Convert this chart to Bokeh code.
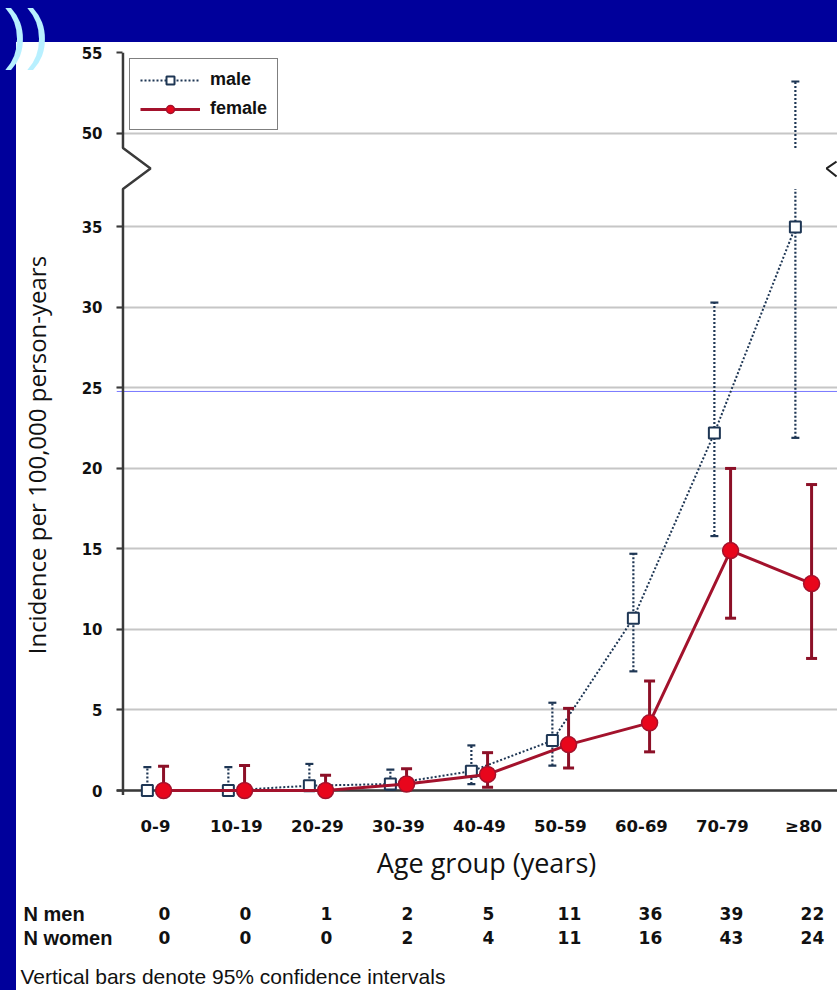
import math
import numpy as np
from bokeh.plotting import figure
from bokeh.models import (Range1d, FixedTicker, ColumnDataSource, Span, Legend,
                          LegendItem, Div)
from bokeh.layouts import column, row
from bokeh.core.properties import value
from bokeh.embed import file_html
from bokeh.resources import INLINE

# ---- data: incidence per 100,000 person-years with 95% CI ----
age_groups = ["0-9", "10-19", "20-29", "30-39", "40-49", "50-59", "60-69", "70-79", "≥80"]

male_rate = [0.0, 0.0, 0.3, 0.4, 1.2, 3.1, 10.7, 22.2, 35.0]
male_ci_low = [0.0, 0.0, 0.0, 0.05, 0.4, 1.55, 7.4, 15.8, 21.9]
male_ci_high = [1.45, 1.45, 1.65, 1.3, 2.8, 5.45, 14.7, 30.3, 53.2]

female_rate = [0.0, 0.0, 0.0, 0.4, 1.0, 2.85, 4.2, 14.9, 12.85]
female_ci_low = [0.0, 0.0, 0.0, 0.05, 0.2, 1.4, 2.4, 10.7, 8.2]
female_ci_high = [1.5, 1.55, 0.95, 1.35, 2.35, 5.1, 6.8, 20.0, 19.0]

n_men = [0, 0, 1, 2, 5, 11, 36, 39, 22]
n_women = [0, 0, 0, 2, 4, 11, 16, 43, 24]

y_tick_values = [0, 5, 10, 15, 20, 25, 30, 35, 50, 55]

# ---- styling ----
NAVY = "#00009b"
MALE = "#1e3654"
FEMALE_LINE = "#a3122c"
FEMALE_ERR = "#8c1027"
FEMALE_FILL = "#e8061c"
AXIS = "#3a3a3a"
GRID = "#c6c6c6"
INK = "#111111"

# ---- broken y axis: 35 → 50 is compressed into a short band ----
LOWER_TOP = 35.0
UPPER_BASE = 50.0
UPPER_BASE_POS = 40.83          # axis position of the value 50
BAND_LO, BAND_HI = 37.36, 39.90  # blank band where the axis is broken


def to_axis(v):
    if v <= LOWER_TOP:
        return float(v)
    if v >= UPPER_BASE:
        return UPPER_BASE_POS + (v - UPPER_BASE)
    return LOWER_TOP + (v - LOWER_TOP) * (UPPER_BASE_POS - LOWER_TOP) / (UPPER_BASE - LOWER_TOP)


def split_at_break(lo, hi):
    """Vertical pieces of an interval, leaving the break band empty."""
    a, b = to_axis(lo), to_axis(hi)
    if a < BAND_LO and b > BAND_HI:
        return [(a, BAND_LO), (BAND_HI, b)]
    return [(a, b)]


idx = np.arange(len(age_groups), dtype=float)
DODGE = 0.1
male_x = idx - DODGE
female_x = idx + DODGE

X_START, X_END = -0.481, 8.42
Y_START, Y_END = -0.683, to_axis(55)

FRAME_W, FRAME_H = 721, 749
LEFT_BORDER = 60
PX_PER_X = FRAME_W / (X_END - X_START)

MAIN_W, MAIN_H = 781, 800
TITLE_W = 40
TABLE_W, TABLE_H = 821, 148

p = figure(width=MAIN_W, height=MAIN_H,
           x_range=Range1d(X_START, X_END), y_range=Range1d(Y_START, Y_END),
           output_backend="svg", toolbar_location=None,
           min_border_left=LEFT_BORDER, min_border_right=0,
           min_border_top=10, min_border_bottom=MAIN_H - 10 - FRAME_H)
p.outline_line_color = None
p.background_fill_color = "white"
p.border_fill_color = "white"

# y axis ticks / grid on the compressed scale
tick_pos = [to_axis(v) for v in y_tick_values]
p.yaxis.ticker = FixedTicker(ticks=tick_pos)
p.yaxis.major_label_overrides = {pos: str(v) for pos, v in zip(tick_pos, y_tick_values)}
p.yaxis.axis_line_color = None
p.yaxis.minor_tick_line_color = None
p.yaxis.major_tick_in = 6
p.yaxis.major_tick_out = 0
p.yaxis.major_tick_line_color = AXIS
p.yaxis.major_tick_line_width = 2
p.yaxis.major_label_standoff = 14
p.yaxis.major_label_text_font = "DejaVu Sans"
p.yaxis.major_label_text_font_style = "bold"
p.yaxis.major_label_text_font_size = "15px"
p.yaxis.major_label_text_color = INK

p.ygrid.ticker = FixedTicker(ticks=tick_pos)
p.ygrid.grid_line_color = GRID
p.ygrid.grid_line_width = 2
p.xgrid.visible = False

# x axis: category labels only
p.xaxis.ticker = FixedTicker(ticks=list(idx))
p.xaxis.major_label_overrides = {float(i): g for i, g in zip(idx, age_groups)}
p.xaxis.axis_line_color = None
p.xaxis.major_tick_line_color = None
p.xaxis.minor_tick_line_color = None
p.xaxis.major_label_standoff = 9
p.xaxis.major_label_text_font = "DejaVu Sans"
p.xaxis.major_label_text_font_style = "bold"
p.xaxis.major_label_text_font_size = "16.5px"
p.xaxis.major_label_text_color = INK

# slide rule line and the x axis baseline
p.add_layout(Span(location=24.78, dimension="width", line_color="#7878ff",
                  line_width=1, level="underlay"))
p.add_layout(Span(location=0, dimension="width", line_color=AXIS,
                  line_width=2.5, level="underlay"))

# y axis line with the break zigzag
AXIS_X = X_START + 0.08
ZIG = 0.34
zig_mid = (BAND_LO + BAND_HI) / 2
p.line([AXIS_X, AXIS_X, AXIS_X + ZIG, AXIS_X, AXIS_X],
       [Y_START + 0.4, BAND_LO, zig_mid, BAND_HI, Y_END],
       line_color=AXIS, line_width=2.5)
# partial break mark at the right edge
p.line([X_END - 0.012, X_END - 0.135, X_END - 0.012],
       [BAND_HI - 0.85, zig_mid, BAND_LO + 0.77],
       line_color="#222222", line_width=2)


def error_bars(xs, lo, hi, color, width, dash, cap):
    x0, y0, x1, y1 = [], [], [], []
    for x, l, h in zip(xs, lo, hi):
        for a, b in split_at_break(l, h):
            x0.append(x); y0.append(a); x1.append(x); y1.append(b)
    p.segment(x0, y0, x1, y1, line_color=color, line_width=width, line_dash=value(dash))
    caps_x = list(xs) + list(xs)
    caps_y = [to_axis(v) for v in hi] + [to_axis(v) for v in lo]
    p.scatter(caps_x, caps_y, marker="dash", size=cap, line_color=color,
              line_width=width)


# male series
error_bars(male_x, male_ci_low, male_ci_high, MALE, 2.2, "2 2", 8)
male_line = p.line(male_x, [to_axis(v) for v in male_rate], line_color=MALE,
                   line_width=2, line_dash="2 2")
male_pts = p.scatter(male_x, [to_axis(v) for v in male_rate], marker="square",
                     size=11, fill_color="white", line_color=MALE, line_width=2)

# female series
error_bars(female_x, female_ci_low, female_ci_high, FEMALE_ERR, 3, "solid", 11)
female_line = p.line(female_x, [to_axis(v) for v in female_rate],
                     line_color=FEMALE_LINE, line_width=3)
female_pts = p.scatter(female_x, [to_axis(v) for v in female_rate], marker="circle",
                       size=16, fill_color=FEMALE_FILL, line_color=FEMALE_LINE,
                       line_width=1.5)

legend = Legend(items=[LegendItem(label="male", renderers=[male_line, male_pts]),
                       LegendItem(label="female", renderers=[female_line, female_pts])],
                location=(13, 671))
legend.border_line_color = "black"
legend.border_line_width = 1.5
legend.background_fill_color = "white"
legend.background_fill_alpha = 1
legend.glyph_width = 60
legend.glyph_height = 20
legend.label_height = 20
legend.label_standoff = 10
legend.padding = 10
legend.spacing = 8
legend.margin = 0
legend.label_text_font = "Liberation Sans"
legend.label_text_font_style = "bold"
legend.label_text_font_size = "18px"
legend.label_text_color = INK
p.add_layout(legend)


def text_panel(width, height, x_range):
    f = figure(width=width, height=height, x_range=x_range,
               y_range=Range1d(height, 0), output_backend="svg",
               toolbar_location=None, x_axis_location=None, y_axis_location=None,
               min_border=0)
    f.grid.visible = False
    f.outline_line_color = None
    f.background_fill_color = "white"
    f.border_fill_color = "white"
    return f


# y axis title, to the left of the tick labels
title_fig = text_panel(TITLE_W, MAIN_H, Range1d(0, TITLE_W))
title_fig.text(x=[20], y=[430], text=["Incidence per 100,000 person-years"],
               angle=math.pi / 2, text_align="center", text_baseline="middle",
               text_font=value("Open Sans"), text_font_size="24px", text_color=INK)

# x axis title, case counts and footnote, on the same horizontal scale as the chart
table_x_start = X_START - (LEFT_BORDER + TITLE_W) / PX_PER_X
table = text_panel(TABLE_W, TABLE_H, Range1d(table_x_start, X_END))
table.text(x=[X_START + 370 / PX_PER_X], y=[20], text=["Age group (years)"],
           text_align="center", text_baseline="middle",
           text_font=value("Open Sans"), text_font_size="27px", text_color=INK)

ROW_MEN, ROW_WOMEN = 71, 95
COUNT_SHIFT = 0.11
for title, counts, ry in (("N men", n_men, ROW_MEN), ("N women", n_women, ROW_WOMEN)):
    table.text(x=[table_x_start + 7 / PX_PER_X], y=[ry], text=[title],
               text_align="left", text_baseline="middle",
               text_font=value("Liberation Sans"), text_font_style="bold",
               text_font_size="20px", text_color=INK)
    src = ColumnDataSource(dict(x=idx + COUNT_SHIFT, y=[ry] * len(counts),
                                n=[str(c) for c in counts]))
    table.text(x="x", y="y", text="n", source=src, text_align="center",
               text_baseline="middle", text_font=value("DejaVu Sans"),
               text_font_style="bold", text_font_size="17px", text_color=INK)

table.text(x=[table_x_start + 4 / PX_PER_X], y=[134],
           text=["Vertical bars denote 95% confidence intervals"],
           text_align="left", text_baseline="middle",
           text_font=value("Liberation Sans"), text_font_size="21px", text_color=INK)

# slide frame around the chart
top_bar = Div(text='<div style="font-family:\'Liberation Sans\',sans-serif;font-size:66px;'
                   'line-height:1;color:#b8f0ff;position:relative;left:5px;top:0px;'
                   'z-index:20;">))</div>',
              width=837, height=42, margin=0,
              styles={"background-color": NAVY, "overflow": "visible", "z-index": "20"})
left_bar = Div(text="", width=16, height=MAIN_H + TABLE_H, margin=0,
               styles={"background-color": NAVY})

chart_block = column(row(title_fig, p, spacing=0), table, spacing=0)
page = column(top_bar, row(left_bar, chart_block, spacing=0), spacing=0)

with open("out.html", "w") as f:
    f.write(file_html(page, INLINE))
